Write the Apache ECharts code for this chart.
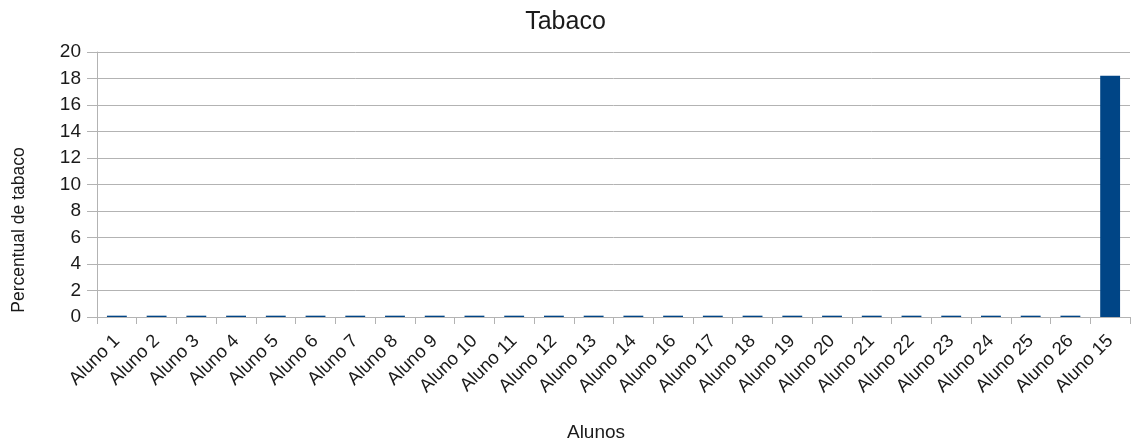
<!DOCTYPE html>
<html>
<head>
<meta charset="utf-8">
<script src="https://cdn.jsdelivr.net/npm/echarts@6/dist/echarts.min.js"></script>
<style>
  html, body { margin: 0; padding: 0; background: #fff; }
  #chart { width: 1131px; height: 446px; }
</style>
</head>
<body>
<div id="chart"></div>
<script>
// Students, in the order they appear on the axis
const categories = [
  'Aluno 1', 'Aluno 2', 'Aluno 3', 'Aluno 4', 'Aluno 5', 'Aluno 6', 'Aluno 7',
  'Aluno 8', 'Aluno 9', 'Aluno 10', 'Aluno 11', 'Aluno 12', 'Aluno 13', 'Aluno 14',
  'Aluno 16', 'Aluno 17', 'Aluno 18', 'Aluno 19', 'Aluno 20', 'Aluno 21', 'Aluno 22',
  'Aluno 23', 'Aluno 24', 'Aluno 25', 'Aluno 26', 'Aluno 15'
];
// Tobacco percentage per student
const tabaco = [
  0.1, 0.1, 0.1, 0.1, 0.1, 0.1, 0.1,
  0.1, 0.1, 0.1, 0.1, 0.1, 0.1, 0.1,
  0.1, 0.1, 0.1, 0.1, 0.1, 0.1, 0.1,
  0.1, 0.1, 0.1, 0.1, 18.2
];
const yTicks = { min: 0, max: 20, interval: 2 };

const font = 'Liberation Sans, Arial, sans-serif';
const ink = '#1a1a1a';
const chart = echarts.init(document.getElementById('chart'));
chart.setOption({
  animation: false,
  title: {
    text: 'Tabaco',
    left: 'center',
    top: 5,
    textStyle: { fontFamily: font, fontSize: 25, fontWeight: 'normal', color: ink }
  },
  grid: { left: 97, right: 1, top: 52, bottom: 129, containLabel: false },
  xAxis: {
    type: 'category',
    data: categories,
    axisLine: { lineStyle: { color: '#b3b3b3' } },
    axisTick: { show: true, alignWithLabel: false, length: 7, lineStyle: { color: '#b3b3b3' } },
    axisLabel: {
      interval: 0, rotate: 45, margin: 21,
      fontFamily: font, fontSize: 18.5, color: ink
    }
  },
  yAxis: {
    type: 'value',
    min: yTicks.min, max: yTicks.max, interval: yTicks.interval,
    axisLine: { show: true, lineStyle: { color: '#b3b3b3' } },
    axisTick: { show: true, length: 10, lineStyle: { color: '#b3b3b3' } },
    splitLine: { lineStyle: { color: '#b3b3b3' } },
    axisLabel: { fontFamily: font, fontSize: 19, color: ink, margin: 16 }
  },
  graphic: [
    {
      type: 'text',
      x: 19, y: 230, rotation: Math.PI / 2,
      style: {
        text: 'Percentual de tabaco', fontFamily: font, fontSize: 17.5, fill: ink,
        align: 'center', verticalAlign: 'middle'
      }
    },
    {
      type: 'text',
      x: 596, y: 433,
      style: {
        text: 'Alunos', fontFamily: font, fontSize: 19, fill: ink,
        align: 'center', verticalAlign: 'middle'
      }
    }
  ],
  series: [{
    type: 'bar',
    data: tabaco,
    barCategoryGap: '50%',
    itemStyle: { color: '#004586' }
  }]
});
</script>
</body>
</html>
